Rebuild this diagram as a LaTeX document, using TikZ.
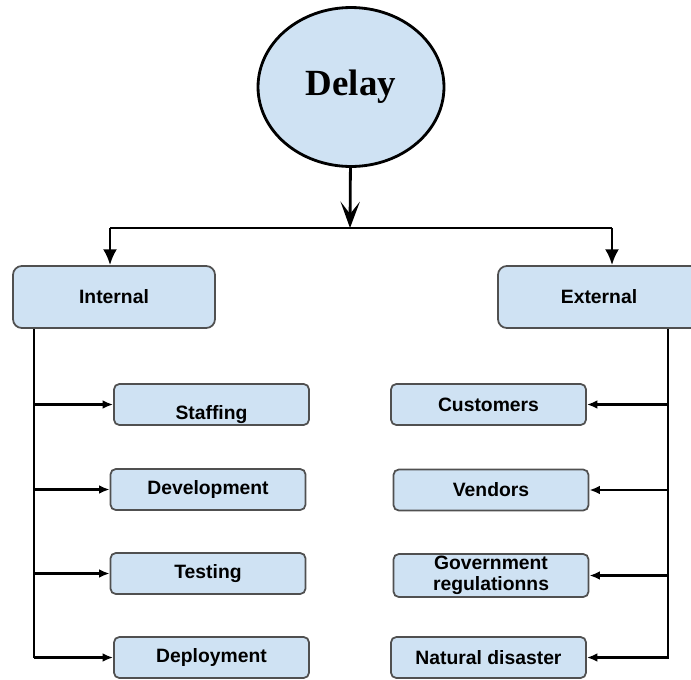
\documentclass[tikz,border=0pt]{standalone}
\usepackage{fontspec}
\setmainfont{Liberation Sans}
\newfontfamily\titlefont{Liberation Serif}
\usetikzlibrary{arrows.meta,shapes.geometric}
\definecolor{boxblue}{HTML}{CFE2F3}
\definecolor{boxline}{HTML}{505050}
\tikzset{
  causebox/.style={draw=boxline, line width=1pt, fill=boxblue, rounded corners=3pt,
    minimum width=3.9cm, minimum height=0.82cm, inner sep=0pt, align=center,
    font=\bfseries\fontsize{11}{12}\selectfont},
  groupbox/.style={causebox, rounded corners=5pt, minimum width=4.04cm, minimum height=1.24cm},
  branch/.style={line width=1.2pt, -{Latex[length=6pt,width=5pt]}},
  split/.style={line width=1.6pt, -{Latex[length=9pt,width=8pt]}},
}
\begin{document}
\begin{tikzpicture}
    \def\x{0.02}
    \def\y{-0.02}
    \useasboundingbox (0,0) rectangle (691*\x, 679*\y);
    \clip (0,0) rectangle (691*\x, 679*\y);
    % top cause
    \node (A0_0) [ellipse, draw, line width=1.6pt, fill=boxblue, minimum width=3.72cm,
      minimum height=3.18cm, font=\titlefont\bfseries\fontsize{21}{24}\selectfont]
      at (351*\x, 87*\y) {Delay};
    % the two groups
    \node (A1_0) [groupbox] at (114*\x, 297*\y) {Internal};
    \node (A1_1) [groupbox] at (599*\x, 297*\y) {External};
    % internal causes
    \node (A2_0) [causebox, text height=18.8pt, text depth=2.3pt] at (211.5*\x, 404.5*\y) {Staffing};
    \node (A3_0) [causebox] at (208*\x, 489.5*\y) {Development};
    \node (A4_0) [causebox] at (208*\x, 573.5*\y) {Testing};
    \node (A5_0) [causebox] at (211.5*\x, 657.5*\y) {Deployment};
    % external causes
    \node (A2_1) [causebox] at (488.5*\x, 404.5*\y) {Customers};
    \node (A3_1) [causebox] at (491*\x, 490*\y) {Vendors};
    \node (A4_1) [causebox, minimum height=0.86cm] at (491*\x, 575.5*\y) {Government\\regulationns};
    \node (A5_1) [causebox] at (488.5*\x, 657.5*\y) {Natural disaster};
    % splitting bar
    \coordinate (B0) at (350*\x, 228*\y);
    \coordinate (B1) at (110*\x, 228*\y);
    \coordinate (B2) at (612*\x, 228*\y);
    \path (A0_0) edge [line width=1.6pt, -{Stealth[length=15pt,width=11pt,inset=7pt]}] (B0);
    \draw [line width=1.6pt] (B1) -- (B2);
    \path (B1) edge [split] (B1 |- A1_0.north);
    \path (B2) edge [split] (B2 |- A1_1.north);
    % trunks
    \coordinate (T0) at (34*\x, 658*\y);
    \coordinate (T1) at (668*\x, 659*\y);
    \draw [line width=1.2pt] (A1_0.south -| T0) -- (T0);
    \draw [line width=1.2pt] (A1_1.south -| T1) -- (T1);
    \foreach \r in {2,...,5} {
      \path (T0 |- A\r_0) edge [branch] (A\r_0.west);
      \path (T1 |- A\r_1) edge [branch] (A\r_1.east);
    }
\end{tikzpicture}
\end{document}
